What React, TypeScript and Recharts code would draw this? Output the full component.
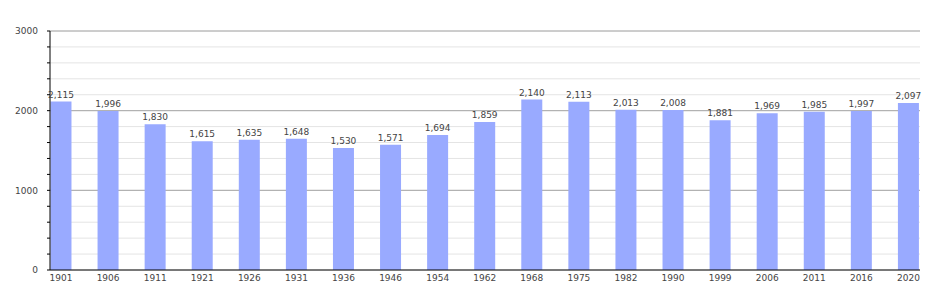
import { BarChart, Bar, XAxis, YAxis, CartesianGrid, LabelList } from 'recharts';

const years = ['1901', '1906', '1911', '1921', '1926', '1931', '1936', '1946', '1954', '1962', '1968', '1975', '1982', '1990', '1999', '2006', '2011', '2016', '2020'];
const population = [2115, 1996, 1830, 1615, 1635, 1648, 1530, 1571, 1694, 1859, 2140, 2113, 2013, 2008, 1881, 1969, 1985, 1997, 2097];
const yTicks = [0, 200, 400, 600, 800, 1000, 1200, 1400, 1600, 1800, 2000, 2200, 2400, 2600, 2800, 3000];
const majorLines = [1000, 2000, 3000];

const data = years.map((year, i) => ({ idx: i, year, value: population[i] }));
const xTicks = data.map((d) => d.idx);

const font = { fontFamily: 'DejaVu Sans, Verdana, sans-serif', fontSize: 9, fill: '#444' };

const App: React.FC = () => {
  return (
    <div style={{ position: 'absolute', left: 0, top: 0 }}>
      <BarChart width={950} height={300} data={data} margin={{ top: 31, right: 30, bottom: 0, left: 8 }}>
        <CartesianGrid vertical={false} stroke="#e4e4e4" />
        <CartesianGrid vertical={false} stroke="#a8a8a8" horizontalValues={majorLines} />
        <XAxis
          type="number"
          dataKey="idx"
          domain={[-0.234, 18.245]}
          ticks={xTicks}
          interval={0}
          allowDataOverflow
          tickFormatter={(v: number) => years[v]}
          tick={font}
          tickLine={false}
          tickSize={0}
          tickMargin={5}
          height={30}
          axisLine={{ stroke: '#000' }}
        />
        <YAxis
          domain={[0, 3000]}
          ticks={yTicks}
          interval={0}
          width={42}
          tick={font}
          tickFormatter={(v: number) => (v % 1000 === 0 ? String(v) : '')}
          tickSize={3}
          tickMargin={9}
          tickLine={{ stroke: '#000' }}
          axisLine={{ stroke: '#000' }}
        />
        <Bar dataKey="value" fill="#99aaff" barSize={21} isAnimationActive={false}>
          <LabelList
            dataKey="value"
            position="top"
            offset={4}
            formatter={(v: number) => v.toLocaleString('en-US')}
            style={font}
          />
        </Bar>
      </BarChart>
    </div>
  );
};

export default App;
